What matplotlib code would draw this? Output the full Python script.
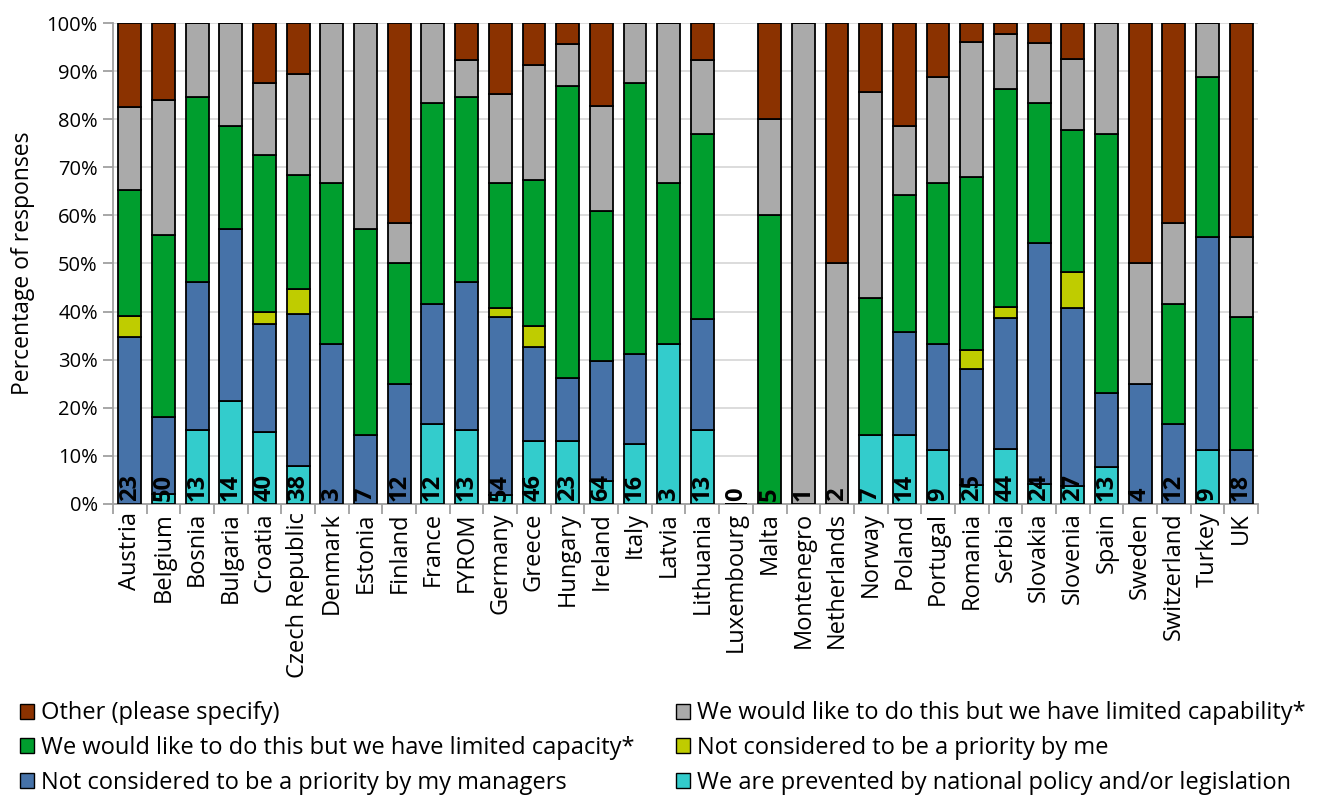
import matplotlib
matplotlib.use("Agg")
import matplotlib.pyplot as plt
import numpy as np
from matplotlib.patches import Patch

countries = ["Austria", "Belgium", "Bosnia", "Bulgaria", "Croatia", "Czech Republic",
             "Denmark", "Estonia", "Finland", "France", "FYROM", "Germany", "Greece",
             "Hungary", "Ireland", "Italy", "Latvia", "Lithuania", "Luxembourg", "Malta",
             "Montenegro", "Netherlands", "Norway", "Poland", "Portugal", "Romania",
             "Serbia", "Slovakia", "Slovenia", "Spain", "Sweden", "Switzerland",
             "Turkey", "UK"]

# response counts per country (bottom to top of the stack)
prevented = [0, 1, 2, 3, 6, 3, 0, 0, 0, 2, 2, 1, 6, 3, 3, 2, 1, 2, 0, 0, 0, 0, 1, 2, 1, 1, 5, 1, 1, 1, 0, 0, 1, 0]
managers  = [8, 8, 4, 5, 9, 12, 1, 1, 3, 3, 4, 20, 9, 3, 16, 3, 0, 3, 0, 0, 0, 0, 0, 3, 2, 6, 12, 12, 10, 2, 1, 2, 4, 2]
me        = [1, 0, 0, 0, 1, 2, 0, 0, 0, 0, 0, 1, 2, 0, 0, 0, 0, 0, 0, 0, 0, 0, 0, 0, 0, 1, 1, 0, 2, 0, 0, 0, 0, 0]
capacity  = [6, 19, 5, 3, 13, 9, 1, 3, 3, 5, 5, 14, 14, 14, 20, 9, 1, 5, 0, 3, 0, 0, 2, 4, 3, 9, 20, 7, 8, 7, 0, 3, 3, 5]
capability= [4, 14, 2, 3, 6, 8, 1, 3, 1, 2, 1, 10, 11, 2, 14, 2, 1, 2, 0, 1, 1, 1, 3, 2, 2, 7, 5, 3, 4, 3, 1, 2, 1, 3]
other     = [4, 8, 0, 0, 5, 4, 0, 0, 5, 0, 1, 8, 4, 1, 11, 0, 0, 1, 0, 1, 0, 1, 1, 3, 1, 1, 1, 1, 2, 0, 2, 5, 0, 8]
n_labels  = [23, 50, 13, 14, 40, 38, 3, 7, 12, 12, 13, 54, 46, 23, 64, 16, 3, 13, 0, 5, 1, 2, 7, 14, 9, 25, 44, 24, 27, 13, 4, 12, 9, 18]

series_names = ["We are prevented by national policy and/or legislation",
                "Not considered to be a priority by my managers",
                "Not considered to be a priority by me",
                "We would like to do this but we have limited capacity*",
                "We would like to do this but we have limited capability*",
                "Other (please specify)"]
series_colors = ["#33CCCC", "#4672A8", "#BFCC00", "#009E2E", "#AAAAAA", "#8B3200"]

plt.rcParams['font.family'] = ['Open Sans', 'DejaVu Sans']

data = np.array([prevented, managers, me, capacity, capability, other], dtype=float)
totals = data.sum(axis=0)
pct = np.divide(data, totals, out=np.zeros_like(data), where=totals > 0) * 100

fig = plt.figure(figsize=(13.19, 7.96), dpi=100)
ax = fig.add_axes([0.0857, 0.367, 0.868, 0.604])

x = np.arange(len(countries))
bottom = np.zeros(len(countries))
for i in range(6):
    ax.bar(x, pct[i], bottom=bottom, width=0.68, color=series_colors[i],
           edgecolor="black", linewidth=1.3, zorder=3)
    bottom += pct[i]

for xi, n in zip(x, n_labels):
    ax.text(xi, 0.7, str(n), rotation=90, ha="center", va="bottom",
            fontsize=17, fontweight="bold", color="black", zorder=5)

ax.set_xlim(-0.5, len(countries) - 0.5)
ax.set_ylim(0, 100)
ax.set_yticks(np.arange(0, 101, 10))
ax.set_yticklabels([f"{v}%" for v in range(0, 101, 10)], fontsize=14.5)
ax.set_ylabel("Percentage of responses", fontsize=16.5, labelpad=8)
ax.grid(axis="y", color="#D9D9D9", linewidth=1.3, zorder=0)
ax.set_axisbelow(True)

ax.set_xticks(x)
ax.set_xticklabels(countries, rotation=90, fontsize=17)
ax.tick_params(axis="x", length=0, pad=6)
ax.set_xticks(np.arange(-0.5, len(countries), 1), minor=True)
ax.tick_params(axis="x", which="minor", length=7, color="#A0A0A0", width=1.3)
ax.tick_params(axis="y", length=7, color="#A0A0A0", width=1.3, pad=4)

for s in ["top", "right"]:
    ax.spines[s].set_visible(False)
for s in ["left", "bottom"]:
    ax.spines[s].set_color("#A0A0A0")
    ax.spines[s].set_linewidth(1.3)

order = [5, 3, 1, 4, 2, 0]
leg_handles = [Patch(facecolor=series_colors[i], edgecolor="black", linewidth=1.0) for i in order]
leg_labels = [series_names[i] for i in order]
fig.legend(leg_handles, leg_labels, ncol=2, loc="lower left",
           bbox_to_anchor=(-0.001, -0.025), frameon=False, fontsize=17,
           handlelength=0.6, handleheight=0.6, handletextpad=0.3,
           columnspacing=1.75, labelspacing=0.45)

fig.savefig("out.png", dpi=100)
